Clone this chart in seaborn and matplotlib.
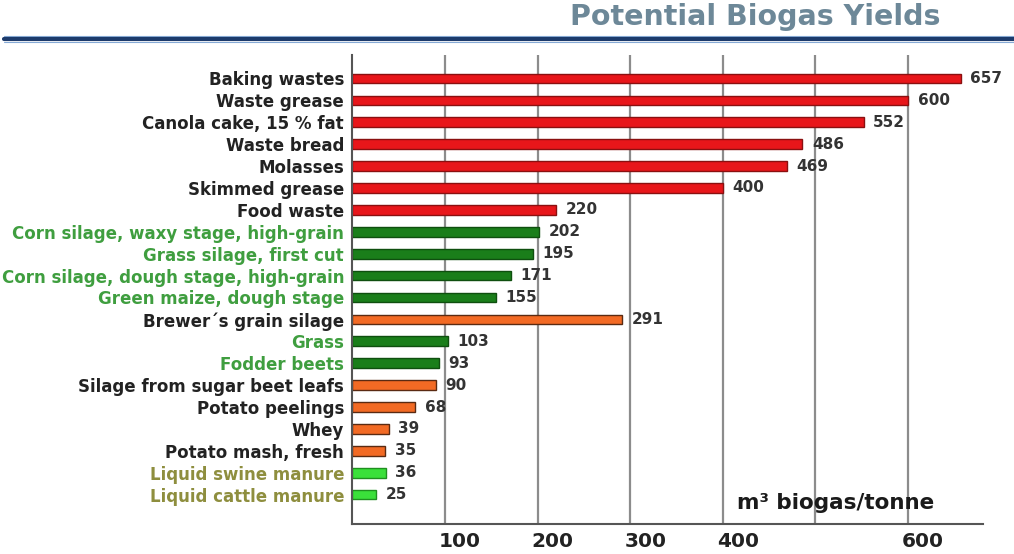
import matplotlib
matplotlib.use("Agg")
import matplotlib.pyplot as plt
import matplotlib.transforms as mtransforms
from matplotlib.lines import Line2D
import seaborn as sns
import pandas as pd

# Feedstocks, top to bottom
categories = [
    "Baking wastes", "Waste grease", "Canola cake, 15 % fat", "Waste bread",
    "Molasses", "Skimmed grease", "Food waste",
    "Corn silage, waxy stage, high-grain", "Grass silage, first cut",
    "Corn silage, dough stage, high-grain", "Green maize, dough stage",
    "Brewer\u00b4s grain silage", "Grass", "Fodder beets",
    "Silage from sugar beet leafs", "Potato peelings", "Whey",
    "Potato mash, fresh", "Liquid swine manure", "Liquid cattle manure",
]
# Biogas yield, m3 per tonne
values = [657, 600, 552, 486, 469, 400, 220,
          202, 195, 171, 155,
          291, 103, 93, 90, 68, 39, 35, 36, 25]
groups = (["waste"] * 7 + ["crop"] * 4 +
          ["residue", "crop", "crop", "residue", "residue", "residue", "residue"] +
          ["manure"] * 2)

x_ticks = [100, 200, 300, 400, 500, 600]
x_tick_labels = ["100", "200", "300", "400", "", "600"]

group_order = ["waste", "crop", "residue", "manure"]
bar_colors = {"waste": "#e8161a", "crop": "#1a7e1a", "residue": "#f26a24", "manure": "#3ae03a"}
edge_colors = {"waste": "#8a1010", "crop": "#0f4f0f", "residue": "#5a2a12", "manure": "#1f8f1f"}
label_colors = {"waste": "#222222", "crop": "#3f9e3f", "residue": "#222222", "manure": "#8e8e3e"}

df = pd.DataFrame({"category": categories, "value": values, "group": groups})

sns.set_theme(style="white")
plt.rcParams["font.family"] = ["DejaVu Sans"]
plt.rcParams["font.weight"] = "bold"

fig = plt.figure(figsize=(10.14, 5.54), dpi=100)
fig.patch.set_facecolor("white")
ax = fig.add_axes([352.4 / 1014, 1 - 524 / 554, (983 - 352.4) / 1014, (524 - 55) / 554])

sns.barplot(data=df, y="category", x="value", hue="group", hue_order=group_order,
            palette=bar_colors, order=categories, orient="h", dodge=False,
            width=0.44, saturation=1, legend=False, linewidth=1.0, ax=ax)

for grp, cont in zip(group_order, ax.containers):
    for bar in cont:
        bar.set_edgecolor(edge_colors[grp])
    ax.bar_label(cont, fmt="%d", padding=7, fontsize=11, fontweight="bold",
                 color="#333333")

ax.set_xlim(0, 681)
ax.set_ylim(len(categories) - 1 + 1.34, -1.07)
ax.set_xlabel("")
ax.set_ylabel("")

ax.set_xticks(x_ticks)
ax.set_xticklabels(x_tick_labels, fontsize=14.5, fontweight="bold", color="#222222")
ax.tick_params(axis="x", length=0, pad=6)
ax.tick_params(axis="y", length=0, pad=6)

# Shift the value labels of the x axis a little to the right of their gridlines
offset = mtransforms.ScaledTranslation(15 / 100, 0, fig.dpi_scale_trans)
for lbl in ax.xaxis.get_majorticklabels():
    lbl.set_transform(lbl.get_transform() + offset)

lookup = dict(zip(categories, groups))
for lbl in ax.get_yticklabels():
    lbl.set_color(label_colors[lookup[lbl.get_text()]])
    lbl.set_fontsize(12)
    lbl.set_fontweight("bold")

ax.grid(axis="x", color="#8c8c8c", linewidth=1.6)
ax.grid(axis="y", visible=False)
ax.set_axisbelow(True)
for side in ("top", "right"):
    ax.spines[side].set_visible(False)
for side in ("left", "bottom"):
    ax.spines[side].set_color("#555555")
    ax.spines[side].set_linewidth(1.5)

# Heading and rule
fig.text(940 / 1014, 1 - 17 / 554, "Potential Biogas Yields", ha="right", va="center",
         fontsize=20.5, fontweight="heavy", color="#6d8898")
fig.add_artist(Line2D([0.004, 1.0], [1 - 35.5 / 554] * 2, color="#8fb2dc", linewidth=0.8))
fig.add_artist(Line2D([0.004, 1.0], [1 - 39 / 554] * 2, color="#1d3b6c", linewidth=3.0))
fig.add_artist(Line2D([0.004, 1.0], [1 - 41.8 / 554] * 2, color="#86aad6", linewidth=0.8))

fig.text(737 / 1014, 1 - 503 / 554, "m\u00b3 biogas/tonne", ha="left", va="center",
         fontsize=15.5, fontweight="bold", color="#1a1a1a")

fig.savefig("out.png", dpi=100, facecolor="white")
